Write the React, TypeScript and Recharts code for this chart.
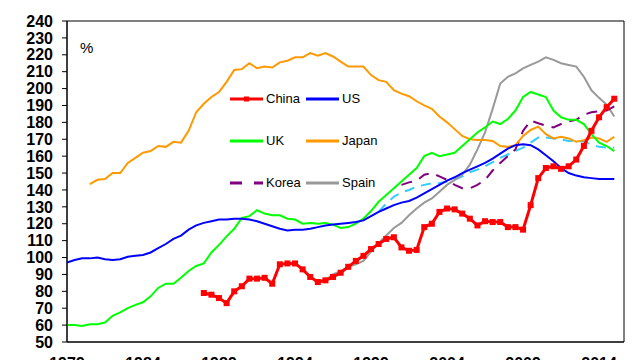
import React from 'react';
import { LineChart, Line, XAxis, YAxis, ReferenceArea } from 'recharts';

// Half-year observation points, 1979.0 .. 2015.0
const years: number[] = Array.from({ length: 73 }, (_, i) => 1979 + i * 0.5);
const xTicks = [1979, 1984, 1989, 1994, 1999, 2004, 2009, 2014];
const yTicks = [50, 60, 70, 80, 90, 100, 110, 120, 130, 140, 150, 160, 170, 180, 190, 200, 210, 220, 230, 240];

// % of GDP
const usStart = 1979;
const usValues = [97, 98.5, 99.5, 99.5, 100, 99, 98.5, 99, 100.5, 101,
  101.5, 103, 105.5, 108, 111, 113, 116.5, 119, 120.5, 121.5,
  122.5, 122.5, 123, 123, 122.5, 121.5, 120, 118.5, 117, 116,
  116.5, 116.5, 117, 118, 119, 119.5, 120, 120.5, 121, 122,
  124.5, 127, 129, 131, 132.5, 133.5, 135.5, 138, 140.5, 143,
  145.5, 147.5, 150, 152, 154, 156, 158.5, 161.5, 164.5, 166.5,
  167, 166.5, 164, 160.5, 157, 153, 150, 148.5, 147.5, 147,
  146.5, 146.5, 146.5];

const ukStart = 1979;
const ukValues = [60, 60, 59.5, 60.5, 60.5, 61.5, 65.5, 67.5, 70, 72,
  73.5, 77, 82, 84.5, 84.5, 88, 92, 95, 96.5, 103,
  107.5, 112.5, 117, 123.5, 124.5, 128, 126, 125, 125, 123,
  122.5, 120, 120.5, 120, 120.5, 119.5, 117.5, 118, 120, 123,
  127.5, 133, 137, 141, 145, 149, 153, 160, 162, 160,
  161, 162, 166, 170, 174, 177, 180.5, 179, 182, 187,
  195, 198, 196.5, 195, 187, 183, 181.5, 181.5, 179, 173,
  168, 166, 163];

const japanStart = 1980.5;
const japanValues = [143.5, 146, 146.5, 150, 150, 156, 159,
  162, 163, 166, 165.5, 168.5, 168, 175, 186, 191, 195,
  198, 204, 211, 211.5, 215, 212, 213, 212.5, 215.5, 216.5,
  218.5, 218.5, 221, 219.5, 221, 219, 216, 213, 213, 213,
  208, 205, 204, 199, 197, 195.5, 192.5, 190, 188, 183.5,
  180, 176, 172, 170, 169.5, 169.5, 169, 166, 165.5, 166.5,
  172, 175.5, 177.5, 173, 170.5, 171.5, 170.5, 168.5, 169.5, 171,
  170.5, 168.5, 171.5];

const spainStart = 1996;
const spainValues = [86.5, 90, 92, 94.5, 96, 98, 103.5, 108.5, 113, 117.5,
  120.5, 125, 129, 132.5, 135, 139, 143, 146, 149, 155,
  164, 174, 188, 203, 207, 209, 212, 214, 216, 218.5,
  217, 215, 214, 213, 207, 199, 194.5, 190.5, 183.5];

const chinaStart = 1988;
const chinaValues = [79, 78, 76, 73, 80, 83, 87.5, 87.5, 88, 84.5,
  96, 96.5, 96.5, 93, 88.5, 85.5, 86.5, 88.5, 91, 94.5,
  98, 101, 105, 108, 111, 112, 106, 104, 104.5, 118,
  120, 127, 129, 128.5, 126, 123, 119, 121.5, 121, 121,
  118, 118, 116.5, 131, 147, 153, 154, 152.5, 154, 158,
  166, 175, 183, 189, 194];

const koreaStart = 2001;
const koreaValues = [143, 144.5, 145.5, 149, 150, 148, 146, 143, 141, 141,
  143, 146, 151.5, 156, 160, 164, 175, 181, 179.5, 178,
  177, 179, 180.5, 181.5, 184.5, 186, 186.5, 187, 189.5];

const otherStart = 1999.5;
const otherValues = [127, 132, 136, 138.5, 140, 142, 143, 144, 144, 145,
  146, 148, 150.5, 152, 154, 156.5, 159, 161, 163, 165,
  168, 171, 171, 170.5, 170, 169, 169, 168.5, 167, 165.5,
  165, 165];

const pick = (arr: number[], start: number, year: number) => {
  if (year < start) return null;
  const v = arr[Math.round((year - start) * 2)];
  return v === undefined ? null : v;
};

const data = years.map((year) => ({
  year,
  us: pick(usValues, usStart, year),
  uk: pick(ukValues, ukStart, year),
  japan: pick(japanValues, japanStart, year),
  spain: pick(spainValues, spainStart, year),
  china: pick(chinaValues, chinaStart, year),
  korea: pick(koreaValues, koreaStart, year),
  other: pick(otherValues, otherStart, year),
}));

const FONT = '"Liberation Sans", Arial, sans-serif';

const XTick = (props: any) => (
  <text x={props.x} y={props.y} dy="0.71em" textAnchor="middle" fontSize={16} fontWeight="bold" fontFamily={FONT} fill="#000">
    {props.payload.value}
  </text>
);

const SquareDot = (props: any) => {
  const { cx, cy, index } = props;
  if (cx == null || cy == null || props.value == null) return <g key={index} />;
  return <rect key={index} x={cx - 3} y={cy - 3} width={6} height={6} fill="#FF0000" />;
};

const legendItems = [
  { name: 'China', color: '#FF0000', x: 230, y: 99, marker: true },
  { name: 'US', color: '#0000FF', x: 306, y: 99 },
  { name: 'UK', color: '#00FF00', x: 230, y: 141 },
  { name: 'Japan', color: '#FF9900', x: 306, y: 141 },
  { name: 'Korea', color: '#800080', x: 230, y: 183, dash: '12 12' },
  { name: 'Spain', color: '#999999', x: 306, y: 183 },
];

export default function App() {
  return (
    <div style={{ position: 'absolute', left: 0, top: 0, width: 640, height: 360, background: '#fff', overflow: 'hidden' }}>
      <LineChart width={640} height={360} data={data} margin={{ top: 21, right: 16, bottom: 0, left: 0 }}>
        <XAxis
          dataKey="year"
          type="number"
          domain={[1979, 2015.64]}
          ticks={xTicks}
          height={18}
          tickSize={0}
          tickMargin={16}
          tick={<XTick />}
          axisLine={{ stroke: '#000' }}
          allowDataOverflow
        />
        <YAxis
          domain={[50, 240]}
          ticks={yTicks}
          interval={0}
          width={67}
          tickSize={5}
          tickMargin={9}
          axisLine={{ stroke: '#000' }}
          tickLine={{ stroke: '#000' }}
          tick={{ fontSize: 16, fontWeight: 'bold', fill: '#000', fontFamily: FONT }}
          allowDataOverflow
        />
        <ReferenceArea x1={1979} x2={2015.64} y1={50} y2={240} fill="none" stroke="#000" strokeWidth={1} ifOverflow="visible" />
        <Line dataKey="other" stroke="#33CCFF" strokeWidth={2} strokeDasharray="10 7" dot={false} isAnimationActive={false} />
        <Line dataKey="spain" stroke="#999999" strokeWidth={2} dot={false} isAnimationActive={false} />
        <Line dataKey="korea" stroke="#800080" strokeWidth={2} strokeDasharray="11 8" dot={false} isAnimationActive={false} />
        <Line dataKey="japan" stroke="#FF9900" strokeWidth={2} dot={false} isAnimationActive={false} />
        <Line dataKey="uk" stroke="#00FF00" strokeWidth={2} dot={false} isAnimationActive={false} />
        <Line dataKey="us" stroke="#0000FF" strokeWidth={2} dot={false} isAnimationActive={false} />
        <Line dataKey="china" stroke="#FF0000" strokeWidth={3} dot={<SquareDot />} isAnimationActive={false} />
      </LineChart>
      <div style={{ position: 'absolute', left: 80, top: 40, fontSize: 15, fontFamily: FONT, lineHeight: '16px', color: '#000' }}>%</div>
      {legendItems.map((it) => (
        <React.Fragment key={it.name}>
          <svg style={{ position: 'absolute', left: it.x, top: it.y - 4 }} width={33} height={8}>
            <line x1={0} y1={4} x2={33} y2={4} stroke={it.color} strokeWidth={3} strokeDasharray={it.dash} />
            {it.marker ? <rect x={14} y={1.5} width={5} height={5} fill={it.color} /> : null}
          </svg>
          <span style={{ position: 'absolute', left: it.x + 36, top: it.y - 8, fontSize: 13, lineHeight: '16px', fontFamily: FONT, color: '#000', whiteSpace: 'nowrap' }}>
            {it.name}
          </span>
        </React.Fragment>
      ))}
    </div>
  );
}
